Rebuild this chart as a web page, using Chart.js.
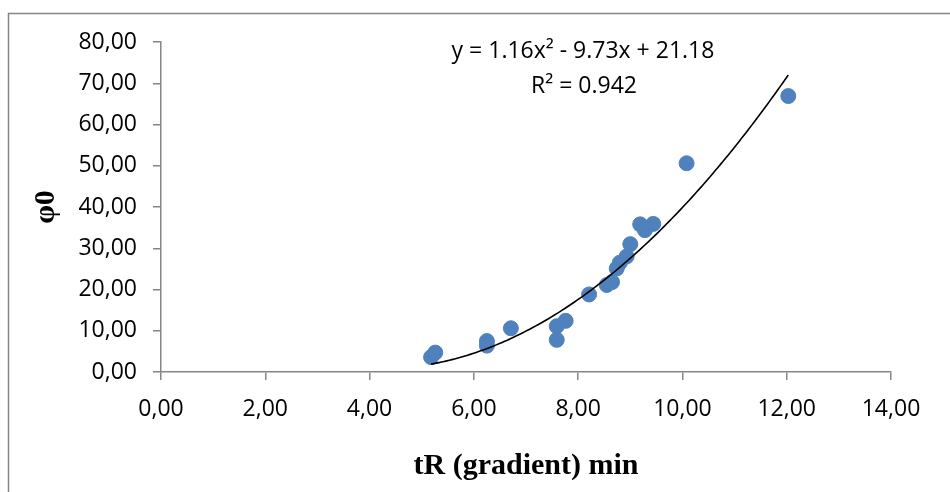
<!DOCTYPE html>
<html>
<head>
<meta charset="utf-8">
<script src="https://cdn.jsdelivr.net/npm/chart.js@4/dist/chart.umd.min.js"></script>
<style>
    body { margin: 0; background: #fff; }
    #wrap { width: 950px; height: 492px; }
</style>
</head>
<body>
<div id="wrap"><canvas id="chart" width="950" height="492"></canvas></div>
<script>
// measured points (tR gradient, phi0)
const tR = [5.18, 5.26, 6.25, 6.25, 6.71, 7.59, 7.59, 7.76, 8.21, 8.55, 8.65, 8.74, 8.80, 8.93, 9.00, 9.19, 9.28, 9.44, 10.08, 12.03];
const phi0 = [3.6, 4.7, 7.5, 6.4, 10.6, 7.8, 11.1, 12.4, 18.8, 21.1, 21.8, 25.1, 26.5, 28.0, 31.0, 35.8, 34.4, 35.9, 50.6, 66.9];

// polynomial trendline as printed on the chart: a*x^2 + b*x + c
const trendCoef = [1.16, -9.73, 21.18];
const trendRange = [5.18, 12.03];
const equationText = 'y = 1.16x² - 9.73x + 21.18';
const r2Text = 'R² = 0.942';

const xTitle = 'tR (gradient) min';
const yTitle = 'φ0';

const points = tR.map((x, i) => ({ x: x, y: phi0[i] }));

const trendPoints = [];
for (let x = trendRange[0]; x <= trendRange[1] + 1e-9; x += 0.05) {
    trendPoints.push({ x: x, y: trendCoef[0] * x * x + trendCoef[1] * x + trendCoef[2] });
}

const fmt = v => Number(v).toFixed(2).replace('.', ',');
const tickFont = { family: '"Open Sans", sans-serif', size: 23 };

// frame, axis titles and the trendline label
const decorations = {
    id: 'decorations',
    afterDraw(chart) {
        const ctx = chart.ctx;
        const x = chart.scales.x, y = chart.scales.y;
        ctx.save();
        ctx.strokeStyle = '#868686';
        ctx.lineWidth = 1.5;
        ctx.strokeRect(8.5, 13.5, 1200, 1200);

        ctx.fillStyle = '#000';
        ctx.textAlign = 'center';
        ctx.textBaseline = 'middle';
        ctx.font = '23px "Open Sans", sans-serif';
        ctx.fillText(equationText, 583, 51);
        ctx.fillText(r2Text, 584, 86);

        ctx.font = 'bold 30px "Liberation Serif", serif';
        ctx.fillText(xTitle, (x.left + x.right) / 2, 466);

        ctx.translate(46, (y.top + y.bottom) / 2);
        ctx.rotate(-Math.PI / 2);
        ctx.fillText(yTitle, 0, 0);
        ctx.restore();
    }
};

new Chart(document.getElementById('chart').getContext('2d'), {
    type: 'scatter',
    data: {
        datasets: [{
            label: 'trend',
            type: 'line',
            data: trendPoints,
            borderColor: '#000',
            borderWidth: 1.6,
            pointRadius: 0,
            fill: false,
            tension: 0,
            order: 0
        }, {
            label: 'phi0',
            data: points,
            backgroundColor: '#4F81BD',
            borderColor: '#4F81BD',
            pointRadius: 7.5,
            pointHoverRadius: 7.5,
            order: 1
        }]
    },
    options: {
        responsive: false,
        animation: false,
        layout: { padding: { top: 42, right: 59, left: 0, bottom: 0 } },
        plugins: {
            legend: { display: false },
            tooltip: { enabled: false }
        },
        scales: {
            x: {
                type: 'linear',
                min: 0,
                max: 14,
                afterFit: s => { s.height = 120; },
                border: { color: '#868686', width: 1.5 },
                grid: { drawOnChartArea: false, drawTicks: true, tickLength: 8, color: '#868686', lineWidth: 1.5 },
                ticks: { stepSize: 2, color: '#000', font: tickFont, padding: 16, callback: fmt, maxRotation: 0 }
            },
            y: {
                min: 0,
                max: 80,
                afterFit: s => { s.width = 161; },
                border: { color: '#868686', width: 1.5 },
                grid: { drawOnChartArea: false, drawTicks: true, tickLength: 8, color: '#868686', lineWidth: 1.5 },
                ticks: { stepSize: 10, color: '#000', font: tickFont, padding: 16, callback: fmt }
            }
        }
    },
    plugins: [decorations]
});
</script>
</body>
</html>
